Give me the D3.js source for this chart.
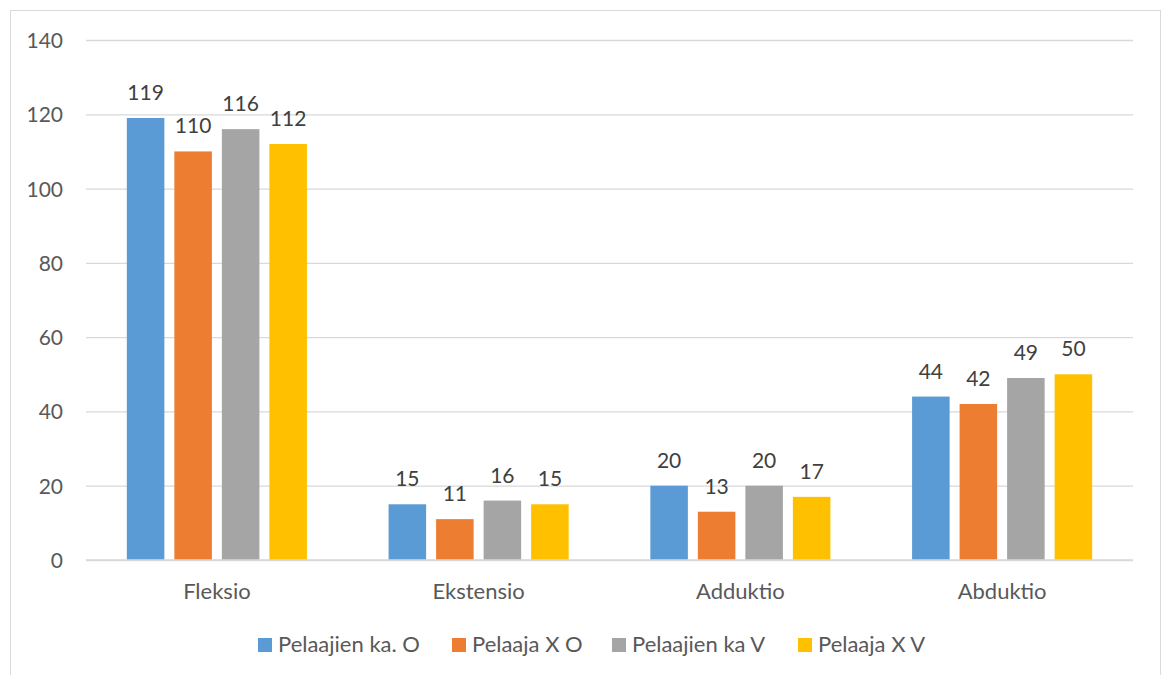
<!DOCTYPE html>
<html><head><meta charset="utf-8">
<script src="https://cdn.jsdelivr.net/npm/d3@7"></script>
<style>
html,body{margin:0;padding:0;background:#fff;}
svg{display:block;}
text{font-family:Lato,"Open Sans",sans-serif;}
</style></head>
<body><svg id="c" width="1167" height="675"></svg>
<script>
const categories = ["Fleksio","Ekstensio","Adduktio","Abduktio"];
const seriesNames = ["Pelaajien ka. O","Pelaaja X O","Pelaajien ka V","Pelaaja X V"];
const seriesColors = ["#5B9BD5","#ED7D31","#A5A5A5","#FFC000"];
const valuesKaO = [119,15,20,44];
const valuesXO  = [110,11,13,42];
const valuesKaV = [116,16,20,49];
const valuesXV  = [112,15,17,50];
const yTicks = [0,20,40,60,80,100,120,140];

const seriesValues = [valuesKaO, valuesXO, valuesKaV, valuesXV];
const svg = d3.select("#c");

// outer border
svg.append("rect").attr("x",10.5).attr("y",10.5).attr("width",1150).attr("height",700)
  .attr("fill","none").attr("stroke","#d9d9d9").attr("stroke-width",1);

const pL = 86, pR = 1133, pT = 40, pB = 560;
const y = d3.scaleLinear().domain([0,140]).range([pB, pT]);
const x0 = d3.scaleBand().domain(categories).range([pL,pR]).paddingInner(0.312).paddingOuter(0.156);
const x1 = d3.scaleBand().domain(seriesNames).range([0,x0.bandwidth()]).paddingInner(0.21).paddingOuter(0);

// gridlines
const yAxis = d3.axisLeft(y).tickValues(yTicks).tickSize(-(pR-pL)).tickPadding(23);
const gy = svg.append("g").attr("transform",`translate(${pL},0)`).call(yAxis);
gy.select(".domain").remove();
gy.selectAll(".tick line").attr("stroke","#d9d9d9").attr("stroke-width",1.3);
gy.selectAll(".tick text").attr("fill","#595959").style("font-size","21px").attr("dy","0.36em");

// bars
const groups = svg.append("g").selectAll("g").data(categories).join("g")
  .attr("transform",c=>`translate(${x0(c)},0)`);
groups.each(function(c,ci){
  const g = d3.select(this);
  seriesNames.forEach((s,si)=>{
    const v = seriesValues[si][ci];
    g.append("rect").attr("x",x1(s)).attr("y",y(v)).attr("width",x1.bandwidth())
      .attr("height",y(0)-y(v)).attr("fill",seriesColors[si]);
    g.append("text").attr("x",x1(s)+x1.bandwidth()/2).attr("y",y(v)-18)
      .attr("text-anchor","middle").attr("fill","#404040").style("font-size","21px").text(v);
  });
});

// x axis baseline and labels
const xAxis = d3.axisBottom(x0).tickSize(0).tickPadding(23);
const gx = svg.append("g").attr("transform",`translate(0,${pB})`).call(xAxis);
gx.select(".domain").attr("stroke","#d9d9d9").attr("stroke-width",1.3).attr("d",`M${pL},0H${pR}`);
gx.selectAll(".tick text").attr("fill","#595959").style("font-size","22px");

// legend
const legendX = [258,452,612,798];
const lg = svg.append("g");
seriesNames.forEach((s,i)=>{
  lg.append("rect").attr("x",legendX[i]).attr("y",638).attr("width",14).attr("height",14).attr("fill",seriesColors[i]);
  lg.append("text").attr("x",legendX[i]+20).attr("y",652).attr("fill","#595959").style("font-size","22px").text(s);
});
</script></body></html>
